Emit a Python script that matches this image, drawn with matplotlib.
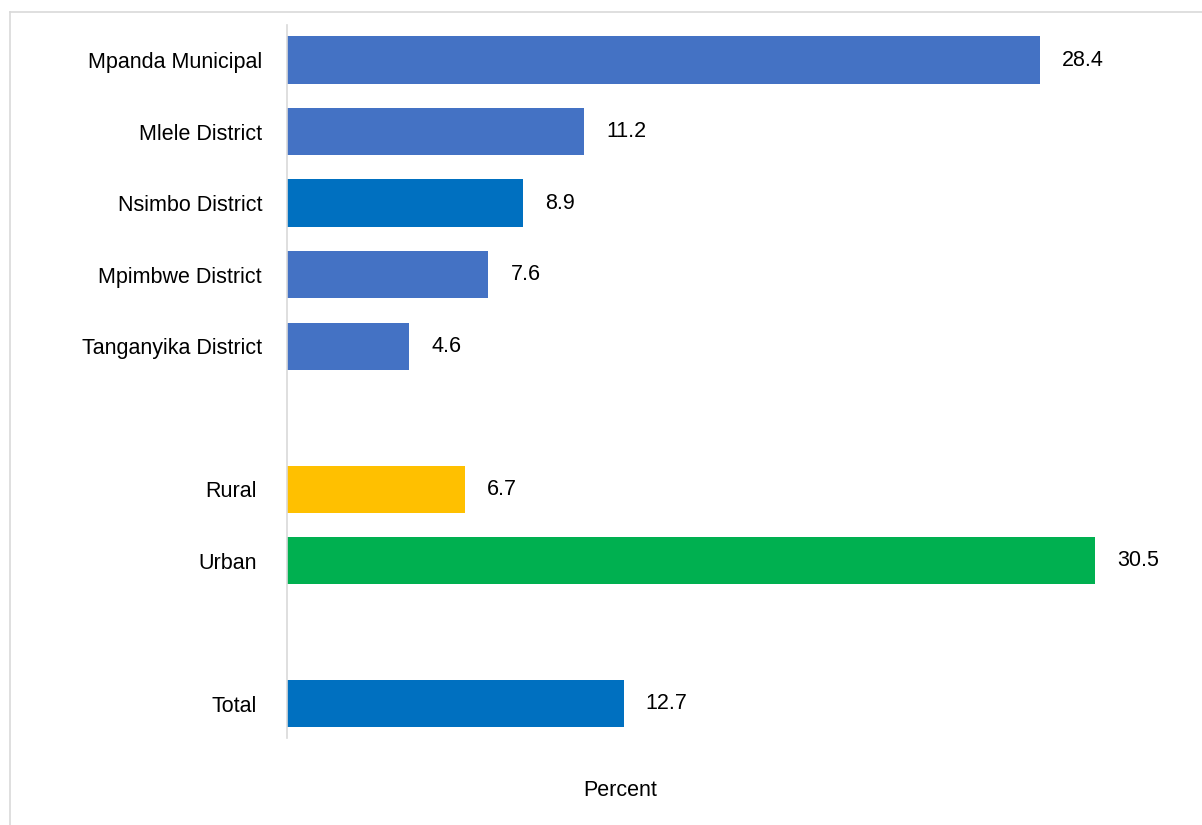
import matplotlib.pyplot as plt
from matplotlib.lines import Line2D

# data
categories = ["Mpanda Municipal", "Mlele District", "Nsimbo District", "Mpimbwe District",
              "Tanganyika District", "Rural", "Urban", "Total"]
values = [28.4, 11.2, 8.9, 7.6, 4.6, 6.7, 30.5, 12.7]
slots = [0, 1, 2, 3, 4, 6, 7, 9]   # gaps between groups
colors = ["#4472C4", "#4472C4", "#0070C0", "#4472C4", "#4472C4", "#FFC000", "#00B050", "#0070C0"]

plt.rcParams['font.family'] = ['Liberation Sans', 'DejaVu Sans']

fig = plt.figure(figsize=(12.02, 8.25), dpi=100)
ax = fig.add_axes([287/1202, 87/825, 901/1202, 713/825])

ax.barh(slots, values, height=0.66, color=colors)
for s, v in zip(slots, values):
    ax.annotate(f"{v:.1f}", (v, s), xytext=(16, 0), textcoords="offset points",
                ha="left", va="center", fontsize=15.5)

ax.set_xlim(0, 34)
ax.set_ylim(9.48, -0.49)
ax.set_yticks(slots)
ax.set_yticklabels(categories, fontsize=15.5)
ax.tick_params(axis="y", length=0, pad=18)
for i, t in enumerate(ax.yaxis.get_major_ticks()):
    if i >= 5:
        t.set_pad(22)
ax.set_xticks([])
for side in ["top", "right", "bottom"]:
    ax.spines[side].set_visible(False)
ax.spines["left"].set_color("#d9d9d9")
ax.spines["left"].set_linewidth(1.2)

fig.text(620/1202, 1 - 790/825, "Percent", ha="center", va="center", fontsize=15.5)

# outer frame (left and top edges visible)
fig.add_artist(Line2D([10/1202, 10/1202], [0, 1 - 12/825], transform=fig.transFigure,
                      color="#d9d9d9", lw=1.2))
fig.add_artist(Line2D([10/1202, 1], [1 - 12/825, 1 - 12/825], transform=fig.transFigure,
                      color="#d9d9d9", lw=1.2))

fig.savefig("out.png", dpi=100)
